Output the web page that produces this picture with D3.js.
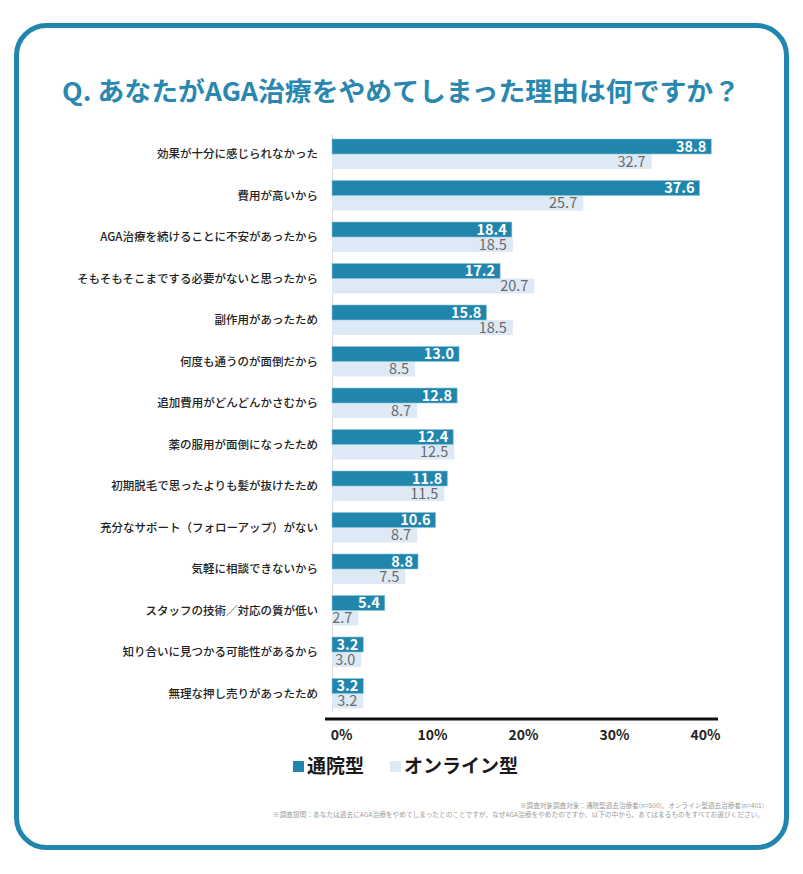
<!DOCTYPE html>
<html><head><meta charset="utf-8">
<script src="https://cdn.jsdelivr.net/npm/d3@7"></script>
<style>
html,body{margin:0;padding:0;background:#fff;}
svg{display:block;font-family:"Noto Sans CJK JP","Noto Sans",sans-serif;}
</style></head>
<body><svg id="c" width="803" height="874"></svg>
<script>
const categories = ["効果が十分に感じられなかった","費用が高いから","AGA治療を続けることに不安があったから","そもそもそこまでする必要がないと思ったから","副作用があったため","何度も通うのが面倒だから","追加費用がどんどんかさむから","薬の服用が面倒になったため","初期脱毛で思ったよりも髪が抜けたため","充分なサポート（フォローアップ）がない","気軽に相談できないから","スタッフの技術／対応の質が低い","知り合いに見つかる可能性があるから","無理な押し売りがあったため"];
const clinic = [38.8,37.6,18.4,17.2,15.8,13.0,12.8,12.4,11.8,10.6,8.8,5.4,3.2,3.2];
const online = [32.7,25.7,18.5,20.7,18.5,8.5,8.7,12.5,11.5,8.7,7.5,2.7,3.0,3.2];
const seriesNames = ["通院型","オンライン型"];
const tickValues = [0,10,20,30,40];
const title = "Q. あなたがAGA治療をやめてしまった理由は何ですか？";
const notes = ["※調査対象調査対象：通院型過去治療者(n=500)、オンライン型過去治療者(n=401)",
"※調査設問：あなたは過去にAGA治療をやめてしまったとのことですが、なぜAGA治療をやめたのですか。以下の中から、あてはまるものをすべてお選びください。"];

const C_DARK = "#2186ad", C_LIGHT = "#dde9f5", C_TITLE = "#2a88b0";
const svg = d3.select("#c");
svg.append("rect").attr("x",16.5).attr("y",25.5).attr("width",770).attr("height",822)
  .attr("rx",30).attr("fill","#fff").attr("stroke",C_DARK).attr("stroke-width",5);

svg.append("text").attr("x",401).attr("y",101).attr("text-anchor","middle")
  .attr("font-size",26).attr("font-weight",700).attr("fill",C_TITLE)
  .attr("textLength",678).attr("lengthAdjust","spacingAndGlyphs").text(title);

const x = d3.scaleLinear().domain([0,40]).range([332,723]);
const xt = d3.scaleLinear().domain([0,40]).range([341,705]);
const y = d3.scaleBand().domain(categories).range([126,126+14*41.5]);
const bh = 15, off = 13;

svg.append("line").attr("x1",332.5).attr("x2",332.5).attr("y1",134).attr("y2",712)
  .attr("stroke","#dcdcdc").attr("stroke-width",1);

const g = svg.append("g").selectAll("g").data(categories).join("g")
  .attr("transform",d=>`translate(0,${y(d)+off})`);

g.append("rect").attr("x",x(0)).attr("y",bh).attr("height",bh)
  .attr("width",(d,i)=>x(online[i])-x(0)).attr("fill",C_LIGHT);
g.append("rect").attr("x",x(0)).attr("y",0).attr("height",bh)
  .attr("width",(d,i)=>x(clinic[i])-x(0)).attr("fill",C_DARK)
  .attr("stroke","#8fc1d6").attr("stroke-width",0.6);

g.append("text").attr("x",(d,i)=>x(clinic[i])-5).attr("y",bh/2).attr("dy","0.36em")
  .attr("text-anchor","end").attr("font-size",14.5).attr("font-weight",700).attr("fill","#fff")
  .text((d,i)=>clinic[i].toFixed(1));
g.append("text").attr("x",(d,i)=>x(online[i])-6).attr("y",bh*1.5).attr("dy","0.36em")
  .attr("text-anchor","end").attr("font-size",14.5).attr("font-weight",400).attr("fill","#6b6b6b")
  .text((d,i)=>online[i].toFixed(1));

g.append("text").attr("x",318).attr("y",bh).attr("dy","0.36em").attr("text-anchor","end")
  .attr("font-size",11.5).attr("font-weight",500).attr("fill","#222").text(d=>d);

// x axis
svg.append("line").attr("x1",325).attr("x2",718).attr("y1",719).attr("y2",719)
  .attr("stroke","#111").attr("stroke-width",3);
const ax = svg.append("g").attr("transform","translate(0,730)")
  .call(d3.axisBottom(xt).tickValues(tickValues).tickFormat(d=>d+"%").tickSize(0));
ax.select(".domain").remove();
ax.selectAll("text").attr("font-size",14).attr("font-weight",700).attr("fill","#222")
  .attr("font-family",'"Noto Sans CJK JP",sans-serif').attr("dy","0.5em");

// legend
const leg = [{x:293,c:C_DARK,t:seriesNames[0]},{x:390,c:C_LIGHT,t:seriesNames[1]}];
const lg = svg.append("g").selectAll("g").data(leg).join("g");
lg.append("rect").attr("x",d=>d.x).attr("y",761).attr("width",11).attr("height",11).attr("fill",d=>d.c);
lg.append("text").attr("x",d=>d.x+14).attr("y",766).attr("dy","0.36em")
  .attr("font-size",19).attr("font-weight",700).attr("fill","#1a1a1a").text(d=>d.t);

// notes
svg.append("text").attr("x",764).attr("y",808).attr("text-anchor","end").attr("font-size",6.5)
  .attr("fill","#9a9a9a").attr("textLength",244).attr("lengthAdjust","spacingAndGlyphs").text(notes[0]);
svg.append("text").attr("x",764).attr("y",817).attr("text-anchor","end").attr("font-size",6.5)
  .attr("fill","#9a9a9a").attr("textLength",491).attr("lengthAdjust","spacingAndGlyphs").text(notes[1]);
</script></body></html>
